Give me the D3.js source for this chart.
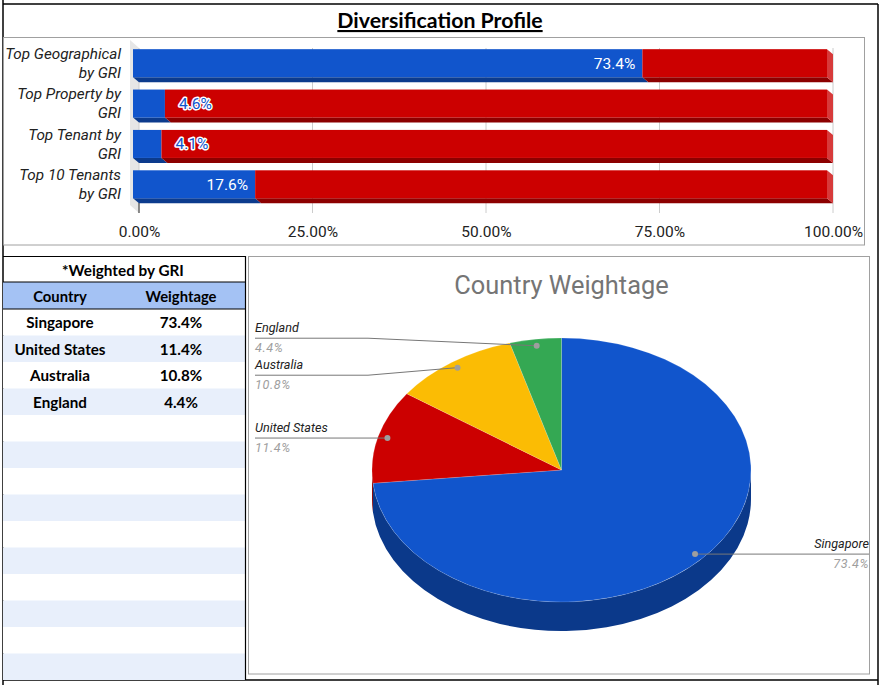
<!DOCTYPE html>
<html>
<head>
<meta charset="utf-8">
<script src="https://d3js.org/d3.v7.min.js"></script>
<style>
body { margin: 0; background: #fff; }
text { font-family: Roboto, "Noto Sans", sans-serif; }
.calibri { font-family: Lato, "Open Sans", sans-serif; font-weight: bold; }
</style>
</head>
<body>
<svg id="chart" width="884" height="685"></svg>
<script>
// --- bar chart data ---
var barCategories = ["Top Geographical\nby GRI", "Top Property by\nGRI", "Top Tenant by\nGRI", "Top 10 Tenants\nby GRI"];
var barValues = [0.734, 0.046, 0.041, 0.176];
var xTicks = [0, 0.25, 0.5, 0.75, 1];

// --- table / pie data ---
var countries = ["Singapore", "United States", "Australia", "England"];
var weights = [73.4, 11.4, 10.8, 4.4];
var pieColors = ["#1155cc", "#cc0000", "#fbbc04", "#34a853"];
var tableRows = 14;

var svg = d3.select("#chart");

// outer frame
var frame = svg.append("g").attr("stroke", "#000").attr("stroke-width", 1.5);
frame.append("line").attr("x1", 3).attr("x2", 878).attr("y1", 4).attr("y2", 4);
frame.append("line").attr("x1", 3).attr("x2", 3).attr("y1", 0).attr("y2", 685);
frame.append("line").attr("x1", 878).attr("x2", 878).attr("y1", 4).attr("y2", 685);
frame.append("line").attr("x1", 3).attr("x2", 878).attr("y1", 680).attr("y2", 680);

svg.append("text")
  .attr("class", "calibri")
  .attr("x", 440).attr("y", 28)
  .attr("text-anchor", "middle")
  .attr("font-size", 21.3)
  .attr("text-decoration", "underline")
  .text("Diversification Profile");

// ================= bar chart =================
svg.append("rect").attr("x", 3.5).attr("y", 37.5).attr("width", 861).attr("height", 207.5)
  .attr("fill", "none").attr("stroke", "#a0a0a0");

var x = d3.scaleLinear().domain([0, 1]).range([139, 833]);
var y = d3.scaleBand().domain(barCategories).range([43, 204.5]).paddingInner(0.306).paddingOuter(0.153);
var dx = 6, dy = 5;

// back wall on the left
svg.append("polygon")
  .attr("points", [[x(0) - 9, 40], [x(0), 48], [x(0), 213], [x(0) - 9, 205]].join(" "))
  .attr("fill", "#e6e6e6");

svg.append("g").selectAll("line").data(xTicks).enter().append("line")
  .attr("x1", d => x(d)).attr("x2", d => x(d))
  .attr("y1", 48).attr("y2", 213)
  .attr("stroke", "#cccccc");
svg.append("line").attr("x1", x(0)).attr("x2", x(0)).attr("y1", 203).attr("y2", 213).attr("stroke", "#333");

var axis = d3.axisBottom(x).tickValues(xTicks).tickFormat(d3.format(".2%")).tickSize(0).tickPadding(13);
var ax = svg.append("g").attr("transform", "translate(0,213)").call(axis);
ax.select(".domain").remove();
ax.selectAll("text").attr("font-size", 15.5).attr("fill", "#222").attr("font-family", "Roboto");

var segments = [];
barCategories.forEach(function(c, i) {
  segments.push({c: c, x0: 0, x1: barValues[i], fill: "#1155cc", dark: "#0c3b8d"});
  segments.push({c: c, x0: barValues[i], x1: 1, fill: "#cc0000", dark: "#8c0000", last: true});
});

var bh = y.bandwidth();
var bars = svg.append("g");
// bottom faces
bars.selectAll(".bottom").data(segments).enter().append("polygon")
  .attr("points", function(d) {
    var a = x(d.x0) - dx, b = x(d.x1) - dx, yb = y(d.c) + bh;
    return [[a, yb], [b, yb], [b + dx, yb + dy], [a + dx, yb + dy]].join(" ");
  })
  .attr("fill", d => d.dark);
// right side faces
bars.selectAll(".side").data(segments.filter(d => d.last)).enter().append("polygon")
  .attr("points", function(d) {
    var b = x(d.x1) - dx, yt = y(d.c), yb = yt + bh;
    return [[b, yt], [b + dx, yt + dy], [b + dx, yb + dy], [b, yb]].join(" ");
  })
  .attr("fill", "#d73a3a");
// front faces
bars.selectAll(".front").data(segments).enter().append("rect")
  .attr("x", d => x(d.x0) - dx)
  .attr("width", d => x(d.x1) - x(d.x0))
  .attr("y", d => y(d.c))
  .attr("height", bh)
  .attr("fill", d => d.fill);

// value labels
var fmt1 = d3.format(".1%");
barCategories.forEach(function(c, i) {
  var v = barValues[i];
  var end = x(v) - dx;
  var inside = x(v) - x(0) > 60;
  var t = svg.append("text")
    .attr("y", y(c) + bh / 2).attr("dy", "0.35em")
    .attr("font-size", 15.5)
    .text(fmt1(v));
  if (inside) {
    t.attr("x", end - 7).attr("text-anchor", "end").attr("fill", "#fff");
  } else {
    t.attr("x", end + 14).attr("fill", "#1155cc")
      .attr("stroke", "#fff").attr("stroke-width", 3).attr("paint-order", "stroke")
      .attr("stroke-linejoin", "round");
  }
});

// category labels
barCategories.forEach(function(c) {
  var lines = c.split("\n");
  var cy = y(c) + bh / 2;
  var t = svg.append("text").attr("text-anchor", "end").attr("font-size", 15.3)
    .attr("font-style", "italic").attr("fill", "#222");
  lines.forEach(function(l, j) {
    t.append("tspan").attr("x", 121).attr("y", cy + (j === 0 ? -9.5 : 9.5)).attr("dy", "0.35em").text(l);
  });
});

// ================= table =================
var rowY = d3.scaleBand().domain(d3.range(tableRows)).range([309, 680]);
svg.append("g").selectAll("rect").data(d3.range(tableRows)).enter().append("rect")
  .attr("x", 3).attr("width", 242)
  .attr("y", d => rowY(d)).attr("height", rowY.bandwidth())
  .attr("fill", d => d % 2 ? "#e8effb" : "#fff");
svg.append("rect").attr("x", 3).attr("width", 242).attr("y", 282).attr("height", 27).attr("fill", "#a4c2f4");
[256.5, 282, 309].forEach(function(yy) {
  svg.append("line").attr("x1", 3).attr("x2", 245).attr("y1", yy).attr("y2", yy).attr("stroke", "#000");
});
svg.append("line").attr("x1", 245.5).attr("x2", 245.5).attr("y1", 256).attr("y2", 680).attr("stroke", "#000").attr("stroke-width", 1.2);

var colX = [60, 181];
svg.append("text").attr("class", "calibri").attr("x", 123).attr("y", 276).attr("text-anchor", "middle")
  .attr("font-size", 15.3).text("*Weighted by GRI");
["Country", "Weightage"].forEach(function(h, j) {
  svg.append("text").attr("class", "calibri").attr("x", colX[j]).attr("y", 302).attr("text-anchor", "middle")
    .attr("font-size", 14.8).text(h);
});
countries.forEach(function(c, i) {
  var yy = rowY(i) + rowY.bandwidth() / 2 + 6;
  svg.append("text").attr("class", "calibri").attr("x", colX[0]).attr("y", yy).attr("text-anchor", "middle")
    .attr("font-size", 15.2).text(c);
  svg.append("text").attr("class", "calibri").attr("x", colX[1]).attr("y", yy).attr("text-anchor", "middle")
    .attr("font-size", 15.2).text(weights[i].toFixed(1) + "%");
});

// ================= 3D pie =================
svg.append("rect").attr("x", 248.5).attr("y", 256.5).attr("width", 621).attr("height", 417.5)
  .attr("fill", "none").attr("stroke", "#a0a0a0");
svg.append("text").attr("x", 561.5).attr("y", 294).attr("text-anchor", "middle")
  .attr("font-size", 25.4).attr("fill", "#757575").text("Country Weightage");

var cx = 561.5, cy = 470, rx = 189.5, ry = 132, depth = 29;
var arcs = d3.pie().sort(null).value(d => d)(weights);
function pt(a, k, off) {
  return [cx + k * rx * Math.sin(a), cy - k * ry * Math.cos(a) + (off || 0)];
}

// side walls (front half only)
var sides = svg.append("g");
arcs.forEach(function(d, i) {
  var s0 = Math.max(d.startAngle, Math.PI / 2), s1 = Math.min(d.endAngle, 3 * Math.PI / 2);
  if (s1 <= s0) return;
  var p0 = pt(s0, 1), p1 = pt(s1, 1);
  var path = "M" + p0 + "A" + rx + "," + ry + " 0 0 1 " + p1 +
    "L" + [p1[0], p1[1] + depth] + "A" + rx + "," + ry + " 0 0 0 " + [p0[0], p0[1] + depth] + "Z";
  sides.append("path").attr("d", path).attr("fill", d3.color(pieColors[i]).darker(1.1));
});

var arc = d3.arc().innerRadius(0).outerRadius(rx);
svg.append("g").attr("transform", "translate(" + cx + "," + cy + ") scale(1," + (ry / rx) + ")")
  .selectAll("path").data(arcs).enter().append("path")
  .attr("d", arc)
  .attr("fill", (d, i) => pieColors[i])
  .attr("stroke", "#fff").attr("stroke-opacity", 0.3).attr("stroke-width", 0.6);

// labels with leader lines
var labels = arcs.map(function(d, i) {
  var mid = (d.startAngle + d.endAngle) / 2;
  var p = pt(mid, 0.95);
  return {name: countries[i], value: weights[i], dot: p, ly: p[1], left: p[0] < cx};
});
[true, false].forEach(function(side) {
  var group = labels.filter(l => l.left === side).sort((a, b) => a.ly - b.ly);
  for (var pass = 0; pass < 5; pass++) {
    for (var k = 1; k < group.length; k++) {
      if (group[k].ly - group[k - 1].ly < 37) {
        var m = (group[k].ly + group[k - 1].ly) / 2;
        group[k - 1].ly = m - 18.5;
        group[k].ly = m + 18.5;
      }
    }
  }
});
var lab = svg.append("g");
labels.forEach(function(l) {
  var tx = l.left ? 255 : 869;
  var elbow = l.left ? cx - rx - 4 : cx + rx + 4;
  lab.append("polyline")
    .attr("points", [[tx, l.ly], [elbow, l.ly], l.dot].join(" "))
    .attr("fill", "none").attr("stroke", "#777").attr("stroke-width", 1);
  lab.append("circle").attr("cx", l.dot[0]).attr("cy", l.dot[1]).attr("r", 3).attr("fill", "#9e9e9e");
  lab.append("text").attr("x", tx).attr("y", l.ly - 6)
    .attr("text-anchor", l.left ? "start" : "end")
    .attr("font-size", 12.6).attr("font-style", "italic").attr("fill", "#222").text(l.name);
  lab.append("text").attr("x", tx).attr("y", l.ly + 14)
    .attr("text-anchor", l.left ? "start" : "end")
    .attr("font-size", 12.6).attr("font-style", "italic").attr("fill", "#9e9e9e")
    .attr("letter-spacing", 0.6).text(l.value.toFixed(1) + "%");
});
</script>
</body>
</html>
